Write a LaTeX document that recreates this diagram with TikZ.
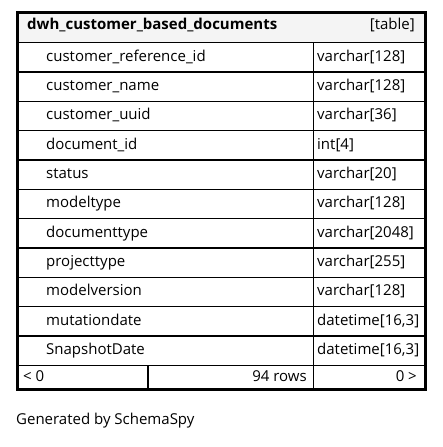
\documentclass[tikz,border=0pt]{standalone}
\usepackage{fontspec}
\setmainfont{Open Sans}
\definecolor{headfill}{RGB}{244,244,244}
\begin{document}
\begin{tikzpicture}[x=1pt,y=-1pt,
  txt/.style={inner sep=0pt, font=\fontsize{15}{18}\selectfont},
  lft/.style={txt, anchor=base west},
  rgt/.style={txt, anchor=base east},
  grid/.style={line width=1.5pt},
  outer/.style={line width=3pt}]
\useasboundingbox (0,0) rectangle (443,447);
\fill[headfill] (17,12.8) rectangle (425,42.7);
\foreach \k in {0,...,11} {
  \draw[grid] (17,{42.7+\k*29.33}) -- (425,{42.7+\k*29.33});
}
\draw[grid] (313.3,42.7) -- (313.3,389);
\draw[grid] (148,365.3) -- (148,389);
\draw[outer] (17,12.8) rectangle (425,389);
% header
\node[lft, font=\fontsize{15}{18}\selectfont\bfseries] (title) at (27,29.3) {dwh\_customer\_based\_documents};
\node[rgt] (kind) at (415,29.3) {[table]};
% rows
\node[lft] (n1) at (46,61.0) {customer\_reference\_id};
\node[lft] (t1) at (317,61.0) {varchar[128]};
\node[lft] (n2) at (46,90.3) {customer\_name};
\node[lft] (t2) at (317,90.3) {varchar[128]};
\node[lft] (n3) at (46,119.7) {customer\_uuid};
\node[lft] (t3) at (317,119.7) {varchar[36]};
\node[lft] (n4) at (46,149.0) {document\_id};
\node[lft] (t4) at (317,149.0) {int[4]};
\node[lft] (n5) at (46,178.3) {status};
\node[lft] (t5) at (317,178.3) {varchar[20]};
\node[lft] (n6) at (46,207.7) {modeltype};
\node[lft] (t6) at (317,207.7) {varchar[128]};
\node[lft] (n7) at (46,237.0) {documenttype};
\node[lft] (t7) at (317,237.0) {varchar[2048]};
\node[lft] (n8) at (46,266.3) {projecttype};
\node[lft] (t8) at (317,266.3) {varchar[255]};
\node[lft] (n9) at (46,295.6) {modelversion};
\node[lft] (t9) at (317,295.6) {varchar[128]};
\node[lft] (n10) at (46,325.0) {mutationdate};
\node[lft] (t10) at (317,325.0) {datetime[16,3]};
\node[lft] (n11) at (46,354.3) {SnapshotDate};
\node[lft] (t11) at (317,354.3) {datetime[16,3]};
% footer
\node[lft] (prev) at (23,381) {<\ 0};
\node[rgt] (rows) at (307,381) {94 rows};
\node[rgt] (next) at (417,381) {0\ >};
\node[lft] (gen) at (16,424) {Generated by SchemaSpy};
\end{tikzpicture}
\end{document}
